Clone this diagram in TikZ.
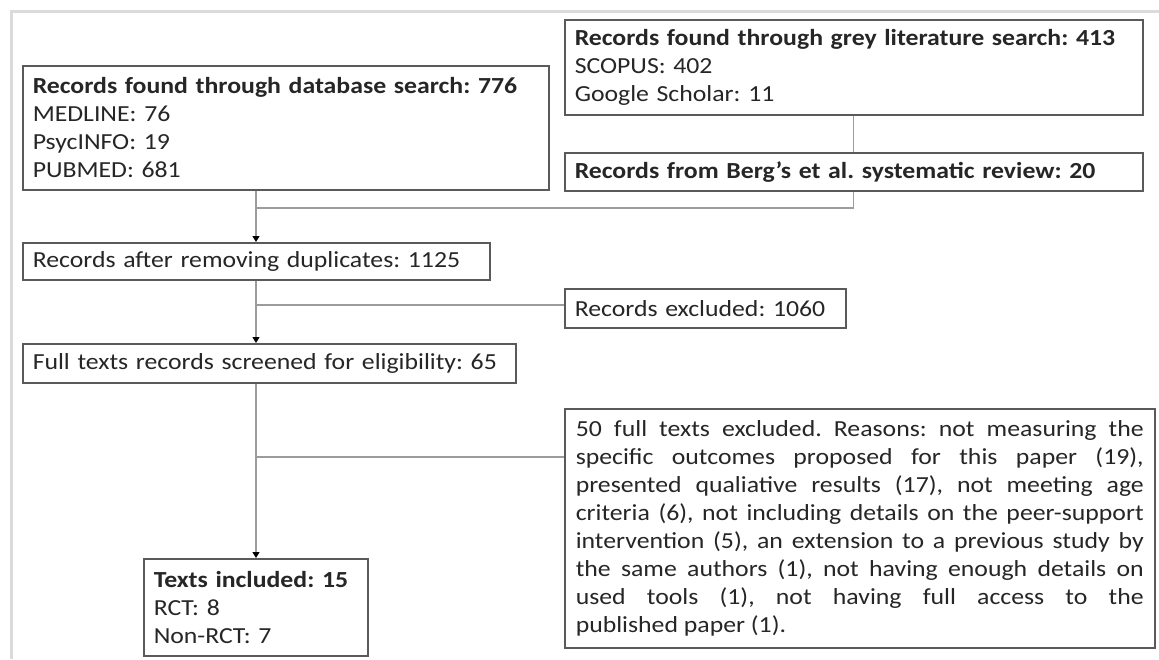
\documentclass[tikz,border=0pt]{standalone}
\usepackage{fontspec}
\setmainfont{Carlito}[FakeStretch=1.12]
\usetikzlibrary{arrows.meta}
\definecolor{boxline}{HTML}{5A5A5A}
\definecolor{linkgray}{HTML}{9C9C9C}
\definecolor{framegray}{HTML}{DADADA}
\definecolor{txt}{HTML}{262626}
\frenchspacing
\begin{document}
\begin{tikzpicture}[x=1pt,y=-1pt,
  box/.style={draw=boxline, line width=1.5pt, anchor=north west, inner xsep=10pt,
    inner ysep=0pt, align=left, text=txt, font=\fontsize{23}{28}\selectfont},
  link/.style={draw=linkgray, line width=1.4pt},
  arr/.style={link, -{Triangle[length=6pt,width=7pt,color=black]}}]
\useasboundingbox (0,0) rectangle (1159,659);
\fill[white] (0,0) rectangle (1159,659);
% page frame
\draw[framegray, line width=3pt] (11,659) -- (11,11) -- (1159,11);

% identification
\node[box, minimum width=526pt, minimum height=124pt, text width=506pt] (db) at (22,65)
  {\textbf{Records found through database search: 776}\\MEDLINE: 76\\PsycINFO: 19\\PUBMED: 681};
\node[box, minimum width=578pt, minimum height=95pt, text width=558pt] (grey) at (564,19)
  {\textbf{Records found through grey literature search: 413}\\SCOPUS: 402\\Google Scholar: 11};
\node[box, minimum width=578pt, minimum height=38pt, text width=558pt] (berg) at (564,152)
  {\textbf{Records from Berg’s et al. systematic review: 20}};

% screening
\node[box, minimum width=467pt, minimum height=37pt, text width=447pt] (dup) at (22,242)
  {Records after removing duplicates: 1125};
\node[box, minimum width=281pt, minimum height=39pt, text width=261pt] (exc1) at (564,288)
  {Records excluded: 1060};
\node[box, minimum width=493pt, minimum height=39pt, text width=473pt] (full) at (22,343)
  {Full texts records screened for eligibility: 65};
\node[box, minimum width=590pt, minimum height=239pt, text width=568pt, inner xsep=11pt,
      align=justify] (exc2) at (564,408)
  {\hyphenpenalty=10000 50 full texts excluded. Reasons: not measuring the\linebreak
   specific outcomes proposed for this paper (19),\linebreak
   presented qualiative results (17), not meeting age\linebreak
   criteria (6), not including details on the peer-support\linebreak
   intervention (5), an extension to a previous study by\linebreak
   the same authors (1), not having enough details on\linebreak
   used tools (1), not having full access to the\linebreak
   published paper (1).};

% included
\node[box, minimum width=224pt, minimum height=97pt, text width=204pt] (inc) at (143,558)
  {\textbf{Texts included: 15}\\RCT: 8\\Non-RCT: 7};

% connectors
\coordinate (spine) at (256,0);
\coordinate (merge) at (256,208);
\coordinate (cut1) at (256,305);
\coordinate (cut2) at (256,457);
\draw[link] (grey.south -| berg.north) -- (berg.north);
\draw[link] (berg.south) |- (merge);
\draw[arr] (db.south -| spine) -- (dup.north -| spine);
\draw[arr] (dup.south -| spine) -- (full.north -| spine);
\draw[link] (cut1) -- (cut1 -| exc1.west);
\draw[arr] (full.south -| spine) -- (inc.north -| spine);
\draw[link] (cut2) -- (cut2 -| exc2.west);
\end{tikzpicture}
\end{document}
